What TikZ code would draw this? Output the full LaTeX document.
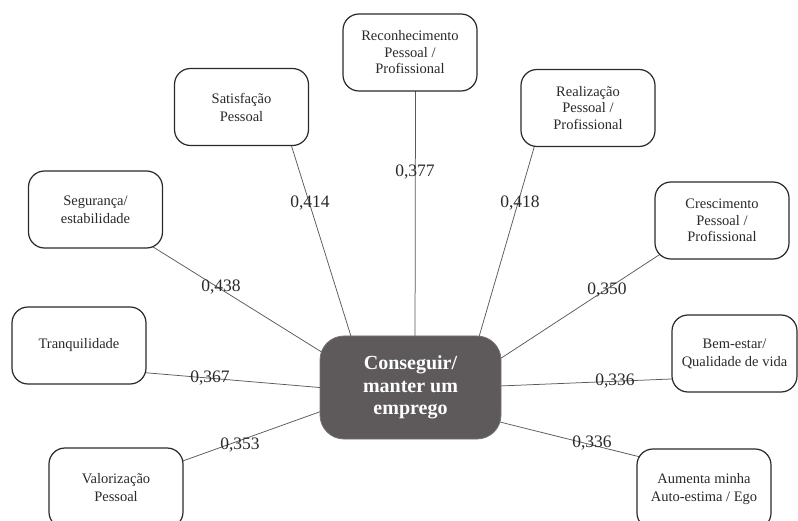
\documentclass[tikz,border=0pt]{standalone}
\usepackage{fontspec}
\setmainfont{Liberation Serif}
\usetikzlibrary{backgrounds}

\definecolor{hubgray}{HTML}{5E5A5B}
\definecolor{ink}{HTML}{2A2A2A}
\definecolor{wire}{HTML}{5A5A5A}

\tikzset{
  leaf/.style={draw=ink, line width=1.2pt, rounded corners=16pt, fill=white,
    minimum width=134pt, minimum height=77pt, inner sep=0pt, align=center,
    text=ink, font=\fontsize{14.5}{18}\selectfont},
  leafthree/.style={leaf, font=\fontsize{14.5}{16.5}\selectfont},
  hub/.style={fill=hubgray, draw=hubgray!85!white, line width=0.8pt, rounded corners=24pt,
    minimum width=181pt, minimum height=103pt, inner sep=0pt, align=center,
    text=white, font=\bfseries\fontsize{20}{22.5}\selectfont},
  link/.style={draw=wire, line width=0.75pt, shorten <=-6pt, shorten >=-6pt},
  weight/.style={text=ink, font=\fontsize{17.5}{20}\selectfont, inner sep=0pt}
}

\begin{document}
\begin{tikzpicture}[x=1pt, y=-1pt]
  \useasboundingbox (0,0) rectangle (798,521);
  \begin{scope}[on background layer]
    \fill[white] (0,0) rectangle (798,521);
  \end{scope}

  % central concept
  \node[hub] (hub) at (410.5,387.5) {Conseguir/\\manter um\\emprego};

  % surrounding concepts
  \node[leaf]      (sat)   at (241.5,107)  {Satisfação\\Pessoal};
  \node[leafthree] (rec)   at (410,52.5)   {Reconhecimento\\Pessoal /\\Profissional};
  \node[leafthree] (real)  at (588,108)    {Realização\\Pessoal /\\Profissional};
  \node[leafthree] (cres)  at (722,220.5)  {Crescimento\\Pessoal /\\Profissional};
  \node[leaf]      (seg)   at (95.5,209.5) {Segurança/\\estabilidade};
  \node[leaf]      (tranq) at (79,345.5)   {Tranquilidade};
  \node[leaf, minimum height=80pt] (valor) at (116,488) {Valorização\\Pessoal};
  \node[leaf, minimum width=125pt] (bem) at (734.5,353.5) {Bem-estar/\\Qualidade de vida};
  \node[leaf, minimum height=80pt] (aum) at (704,489) {Aumenta minha\\Auto-estima / Ego};

  % connectors, kept behind the boxes
  \begin{scope}[on background layer]
    \draw[link] (hub.139.2)  -- (sat.-38.8);
    \draw[link] (hub.85)     -- (rec.-82.6);
    \draw[link] (hub.37.8)   -- (real.-144.7);
    \draw[link] (hub.18.2)   -- (cres.-151);
    \draw[link] (hub.1)      -- (bem.-158.6);
    \draw[link] (hub.-21.9)  -- (aum.154.2);
    \draw[link] (hub.195.7)  -- (valor.22.7);
    \draw[link] (hub.180)    -- (tranq.-22.3);
    \draw[link] (hub.158.6)  -- (seg.-33.3);
  \end{scope}

  % correlation weights
  \node[weight] (wsat)   at (310,203) {0,414};
  \node[weight] (wrec)   at (415,172) {0,377};
  \node[weight] (wreal)  at (520,203) {0,418};
  \node[weight] (wseg)   at (221,287) {0,438};
  \node[weight] (wtranq) at (210,378) {0,367};
  \node[weight] (wvalor) at (240,445) {0,353};
  \node[weight] (wcres)  at (607,290) {0,350};
  \node[weight] (wbem)   at (615,381) {0,336};
  \node[weight] (waum)   at (592,443) {0,336};
\end{tikzpicture}
\end{document}
